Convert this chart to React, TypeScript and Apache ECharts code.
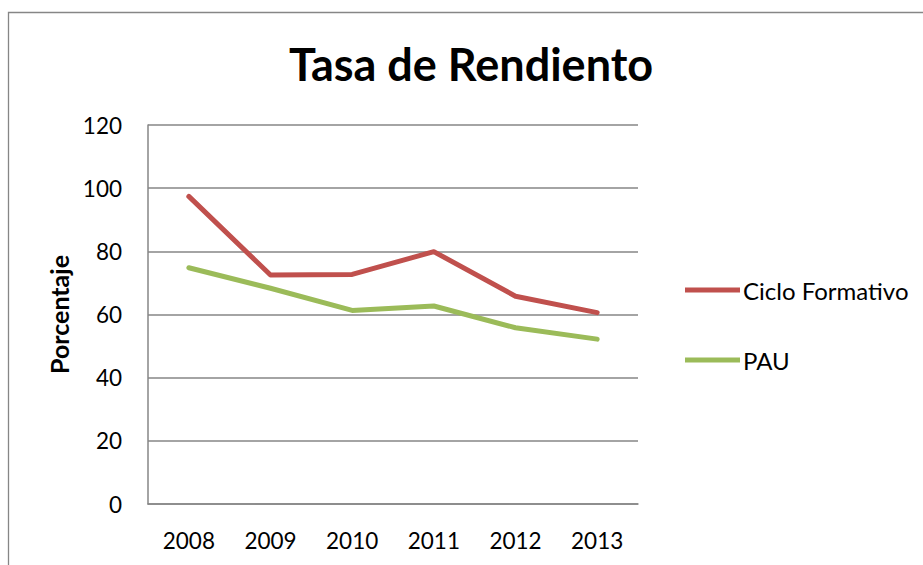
import React, { useEffect, useRef } from "react";
import * as echarts from "echarts";

const years = ["2008", "2009", "2010", "2011", "2012", "2013"];
const cicloFormativo = [97.4, 72.5, 72.7, 79.9, 65.8, 60.6];
const pau = [74.8, 68.3, 61.3, 62.7, 55.8, 52.2];
const seriesNames = ["Ciclo Formativo", "PAU"];
const titleText = "Tasa de Rendiento";
const yAxisName = "Porcentaje";

const FONT = "Lato, 'Liberation Sans', sans-serif";

export default function App() {
  const ref = useRef<HTMLDivElement>(null);
  useEffect(() => {
    if (!ref.current) return;
    const chart = echarts.init(ref.current, undefined, { renderer: "svg" });
    chart.setOption({
      animation: false,
      backgroundColor: "#ffffff",
      title: {
        text: titleText,
        left: 471,
        textAlign: "center",
        top: 41,
        padding: 0,
        textStyle: { fontFamily: FONT, fontWeight: "bold", fontSize: 45, color: "#000" },
      },
      graphic: [
        {
          type: "rect",
          shape: { x: 8.5, y: 12.5, width: 1000, height: 700 },
          style: { fill: "none", stroke: "#868686", lineWidth: 1.3 },
          silent: true,
          z: 100,
        },
      ],
      legend: {
        orient: "vertical",
        left: 685,
        top: 278,
        padding: 0,
        itemWidth: 55,
        itemHeight: 5,
        itemGap: 46,
        icon: "rect",
        data: seriesNames,
        textStyle: { fontFamily: FONT, fontSize: 24, color: "#000", lineHeight: 24, padding: [0, 0, 0, -2] },
      },
      grid: { left: 148, top: 125, width: 490, height: 379, containLabel: false },
      xAxis: {
        type: "category",
        data: years,
        boundaryGap: true,
        axisLine: { show: true, lineStyle: { color: "#868686", width: 1.5 } },
        axisTick: { show: false },
        axisLabel: { fontFamily: FONT, fontSize: 22.5, color: "#000", margin: 25 },
      },
      yAxis: {
        type: "value",
        min: 0,
        max: 120,
        interval: 20,
        name: yAxisName,
        nameLocation: "middle",
        nameGap: 74,
        nameTextStyle: { fontFamily: FONT, fontWeight: "bold", fontSize: 25, color: "#000" },
        axisLine: { show: true, lineStyle: { color: "#868686", width: 1.5 } },
        axisTick: { show: false },
        axisLabel: { fontFamily: FONT, fontSize: 22.5, color: "#000", margin: 26 },
        splitLine: { show: true, lineStyle: { color: "#868686", width: 1.5 } },
      },
      series: [
        {
          name: seriesNames[0],
          type: "line",
          data: cicloFormativo,
          symbol: "none",
          lineStyle: { color: "#C0504D", width: 5, cap: "round", join: "round" },
          itemStyle: { color: "#C0504D" },
        },
        {
          name: seriesNames[1],
          type: "line",
          data: pau,
          symbol: "none",
          lineStyle: { color: "#9BBB59", width: 5, cap: "round", join: "round" },
          itemStyle: { color: "#9BBB59" },
        },
      ],
    });
    return () => chart.dispose();
  }, []);
  return (
    <div
      ref={ref}
      style={{ position: "fixed", left: 0, top: 0, width: 923, height: 565, background: "#fff" }}
    />
  );
}
